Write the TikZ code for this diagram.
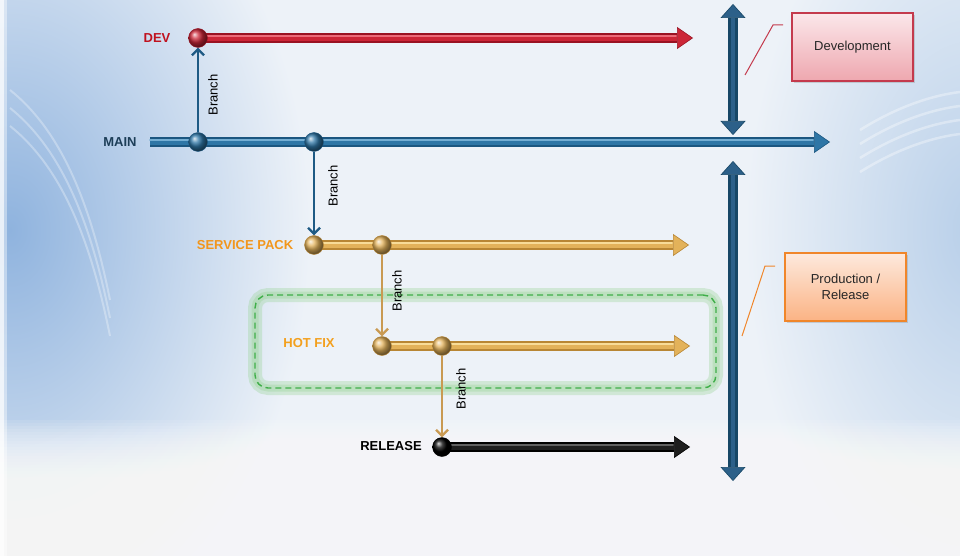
\documentclass[tikz,border=0pt]{standalone}
\usepackage{fontspec}
\setmainfont{Liberation Sans}
\usetikzlibrary{arrows.meta,shadows}

\pgfdeclarelayer{bg}
\pgfdeclarelayer{tubes}
\pgfsetlayers{bg,tubes,main}

% palette
\definecolor{bgbase}{HTML}{EDF2F8}
\definecolor{bgleft}{HTML}{8FB3DE}
\definecolor{bgright}{HTML}{B8CFE9}
\definecolor{reddark}{HTML}{9A1222}
\definecolor{redmid}{HTML}{CC2637}
\definecolor{redlight}{HTML}{EC6A78}
\definecolor{bluedark}{HTML}{1B5680}
\definecolor{bluemid}{HTML}{2E76A6}
\definecolor{bluelight}{HTML}{74AED3}
\definecolor{golddark}{HTML}{B88634}
\definecolor{goldmid}{HTML}{E3B25A}
\definecolor{goldlight}{HTML}{F8DC98}
\definecolor{blackmid}{HTML}{1E1E1E}
\definecolor{blacklight}{HTML}{606060}
\definecolor{navy}{HTML}{174766}
\definecolor{navylight}{HTML}{2C6089}
\definecolor{branchblue}{HTML}{1E5A84}
\definecolor{branchgold}{HTML}{C99A52}
\definecolor{devtext}{HTML}{C0121F}
\definecolor{maintext}{HTML}{1D3E58}
\definecolor{sptext}{HTML}{F2961C}
\definecolor{hftext}{HTML}{F3A01E}
\definecolor{devtop}{HTML}{FBE7EA}
\definecolor{devbot}{HTML}{EEA7AF}
\definecolor{devedge}{HTML}{C43A4D}
\definecolor{prodtop}{HTML}{FDE9DD}
\definecolor{prodbot}{HTML}{FBB384}
\definecolor{prodedge}{HTML}{F0862A}
\definecolor{hfgreen}{HTML}{3FAE49}
\definecolor{glowgreen}{HTML}{8ED08A}

\tikzset{
  x=1pt, y=-1pt,
  lbl/.style={font=\bfseries\fontsize{13}{15}\selectfont, inner sep=1pt},
  branchlbl/.style={font=\fontsize{13}{15}\selectfont, rotate=90, inner sep=1pt},
  boxtext/.style={font=\fontsize{13}{16}\selectfont, text=black!85, align=center},
  dot/.style={circle, minimum size=19pt, inner sep=0pt, draw=#1, line width=0.4pt},
  tubeout/.style n args={2}{line width=10pt, draw=#1,
     -{Triangle[length=16pt,width=22pt,line width=0.6pt,fill=#2]}},
  tubemid/.style={line width=6.5pt, draw=#1, shorten >=16pt},
  tubehl/.style={line width=1.8pt, draw=#1, shorten >=17pt, line cap=round},
  brancharrow/.style={line width=2.2pt, draw=#1,
     -{Straight Barb[length=6pt,width=12pt]}},
  vaxis/.style={line width=10pt, draw=navy,
     {Triangle[length=14pt,width=25pt,line width=0.6pt,fill=navylight]}-{Triangle[length=14pt,width=25pt,line width=0.6pt,fill=navylight]}},
  vaxismid/.style={line width=4.5pt, draw=navylight, shorten >=14pt, shorten <=14pt},
  infobox/.style n args={3}{rectangle, minimum width=121pt, minimum height=68pt,
     top color=#1, bottom color=#2, draw=#3, line width=1.2pt,
     drop shadow={opacity=0.3, shadow xshift=2pt, shadow yshift=-2pt}},
  callout/.style={line width=1pt, draw=#1},
  hfframe/.style={rectangle, rounded corners=13pt, minimum width=461pt,
     minimum height=93pt, draw=hfgreen, line width=1.4pt, dash pattern=on 6pt off 4pt},
  hfglow/.style={rectangle, rounded corners=13pt, minimum width=461pt,
     minimum height=93pt, draw=glowgreen, draw opacity=0.3, line width=#1}
}

\begin{document}
\begin{tikzpicture}
\useasboundingbox (0,0) rectangle (960,556);

% ---------- backdrop ----------
\begin{pgfonlayer}{bg}
  \fill[bgbase] (0,0) rectangle (960,556);
  \shade[inner color=bgleft, outer color=bgbase] (10,230) ellipse [x radius=300, y radius=420];
  \shade[inner color=bgright, outer color=bgbase] (975,230) ellipse [x radius=230, y radius=380];
  % faint swirls
  \foreach \dy in {0,14,28,42} {
    \draw[white, line width=2.5pt, opacity=0.35]
      (860,130+\dy) .. controls (900,105+\dy) and (935,95+\dy) .. (960,92+\dy);
  }
  \foreach \dy in {0,18,36} {
    \draw[white, line width=2pt, opacity=0.3]
      (10,90+\dy) .. controls (60,130+\dy) and (90,200+\dy) .. (110,300+\dy);
  }
  % floor: whitening towards the bottom
  \foreach \i in {0,...,19} {
    \fill[white, opacity=0.09] (0,{420+3*\i}) rectangle (960,556);
  }
  % thin pale margin on the left
  \fill[white, opacity=0.8] (0,0) rectangle (4,556);
  \fill[white, opacity=0.4] (4,0) rectangle (7,556);
\end{pgfonlayer}

% ---------- hot-fix frame ----------
\node[hfglow=14pt] (hfGlowA) at (485.5,341.5) {};
\node[hfglow=7pt]  (hfGlowB) at (485.5,341.5) {};
\node[hfframe]     (hfFrame) at (485.5,341.5) {};

% ---------- commit points ----------
\node[dot=reddark,   ball color=redmid]   (devDot)  at (198,38)  {};
\node[dot=bluedark,  ball color=bluemid]  (mainDotA) at (198,142) {};
\node[dot=bluedark,  ball color=bluemid]  (mainDotB) at (314,142) {};
\node[dot=golddark,  ball color=goldmid]  (spDotA)  at (314,245) {};
\node[dot=golddark,  ball color=goldmid]  (spDotB)  at (382,245) {};
\node[dot=golddark,  ball color=goldmid]  (hfDotA)  at (382,346) {};
\node[dot=golddark,  ball color=goldmid]  (hfDotB)  at (442,346) {};
\node[dot=black,     ball color=black]    (relDot)  at (442,447) {};

% line ends
\coordinate (mainStart) at (150,142);
\coordinate (devEnd)  at (693,38);
\coordinate (mainEnd) at (830,142);
\coordinate (spEnd)   at (689,245);
\coordinate (hfEnd)   at (690,346);
\coordinate (relEnd)  at (690,447);

% ---------- branch lines ----------
\begin{pgfonlayer}{tubes}
  \draw[tubeout={reddark}{redmid}] (devDot.center) -- (devEnd);
  \draw[tubemid=redmid] (devDot.center) -- (devEnd);
  \draw[tubehl=redlight] ([yshift=2pt]devDot.center) -- ([yshift=2pt]devEnd);

  \draw[tubeout={bluedark}{bluemid}] (mainStart) -- (mainEnd);
  \draw[tubemid=bluemid] (mainStart) -- (mainEnd);
  \draw[tubehl=bluelight] ([yshift=2pt]mainStart) -- ([yshift=2pt]mainEnd);

  \draw[tubeout={golddark}{goldmid}] (spDotA.center) -- (spEnd);
  \draw[tubemid=goldmid] (spDotA.center) -- (spEnd);
  \draw[tubehl=goldlight] ([yshift=2pt]spDotA.center) -- ([yshift=2pt]spEnd);

  \draw[tubeout={golddark}{goldmid}] (hfDotA.center) -- (hfEnd);
  \draw[tubemid=goldmid] (hfDotA.center) -- (hfEnd);
  \draw[tubehl=goldlight] ([yshift=2pt]hfDotA.center) -- ([yshift=2pt]hfEnd);

  \draw[tubeout={black}{blackmid}] (relDot.center) -- (relEnd);
  \draw[tubemid=blackmid] (relDot.center) -- (relEnd);
  \draw[tubehl=blacklight] ([yshift=2pt]relDot.center) -- ([yshift=2pt]relEnd);
\end{pgfonlayer}

% ---------- branch arrows ----------
\draw[brancharrow=branchblue] (mainDotA.north) -- (devDot.south);
\draw[brancharrow=branchblue] (mainDotB.south) -- (spDotA.north);
\draw[brancharrow=branchgold] (spDotB.south) -- (hfDotA.north);
\draw[brancharrow=branchgold] (hfDotB.south) -- (relDot.north);

\node[branchlbl] (brA) at (213,95)  {Branch};
\node[branchlbl] (brB) at (333,186) {Branch};
\node[branchlbl] (brC) at (397,291) {Branch};
\node[branchlbl] (brD) at (461,389) {Branch};

% ---------- branch names ----------
\node[lbl, text=devtext]  (devLbl)  at (157,38)  {DEV};
\node[lbl, text=maintext] (mainLbl) at (120,142) {MAIN};
\node[lbl, text=sptext]   (spLbl)   at (245,245) {SERVICE PACK};
\node[lbl, text=hftext]   (hfLbl)   at (309,343) {HOT FIX};
\node[lbl, text=black]    (relLbl)  at (391,446) {RELEASE};

% ---------- environment axes ----------
\coordinate (devAxTop) at (733,4);
\coordinate (devAxBot) at (733,135);
\coordinate (prodAxTop) at (733,161);
\coordinate (prodAxBot) at (733,481);
\draw[vaxis] (devAxTop) -- (devAxBot);
\draw[vaxismid] (devAxTop) -- (devAxBot);
\draw[vaxis] (prodAxTop) -- (prodAxBot);
\draw[vaxismid] (prodAxTop) -- (prodAxBot);

% ---------- environment boxes ----------
\node[infobox={devtop}{devbot}{devedge}] (devBox) at (852.5,47) {};
\node[boxtext] (devBoxTxt) at (devBox.center) {Development};
\node[infobox={prodtop}{prodbot}{prodedge}] (prodBox) at (845.5,287) {};
\node[boxtext] (prodBoxTxt) at (prodBox.center) {Production /\\Release};

\coordinate (devCallA) at (745,75);
\coordinate (devCallB) at (773,25);
\coordinate (devCallC) at (783,25);
\draw[callout=devedge] (devCallA) -- (devCallB) -- (devCallC);
\coordinate (prodCallA) at (742,336);
\coordinate (prodCallB) at (765,266);
\coordinate (prodCallC) at (775,266);
\draw[callout=prodedge] (prodCallA) -- (prodCallB) -- (prodCallC);

\end{tikzpicture}
\end{document}
